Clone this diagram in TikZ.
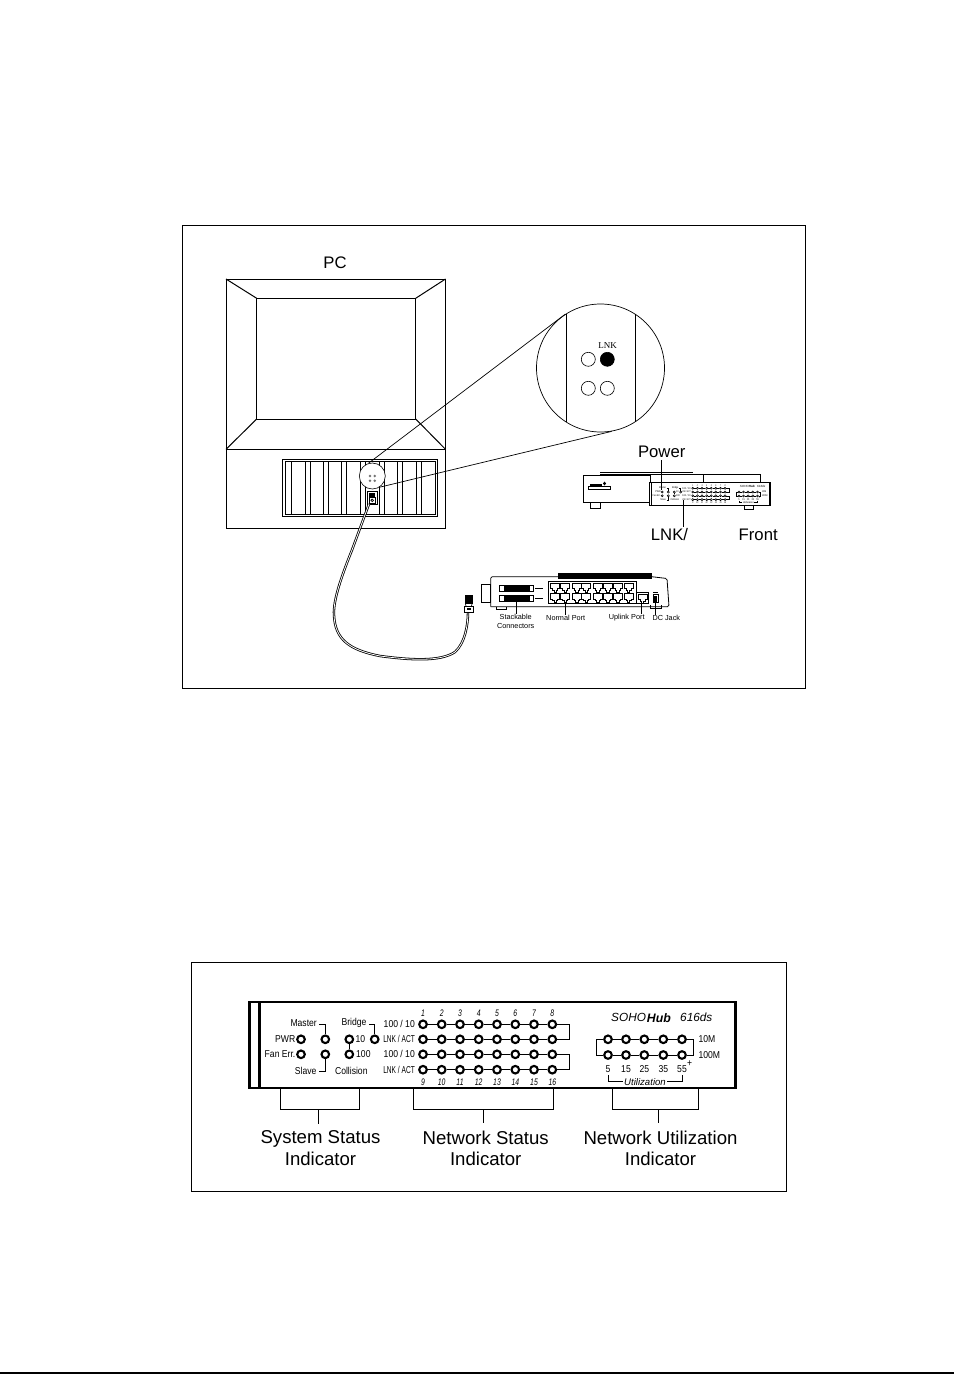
\documentclass[tikz,border=0pt]{standalone}
\usepackage{fontspec}
\setmainfont{Liberation Sans}
\newfontfamily\narrowfont[FakeStretch=0.86]{Liberation Sans}
\newfontfamily\tightfont[FakeStretch=0.66]{Liberation Sans}
\newfontfamily\numfont[FakeStretch=0.72]{Liberation Sans}
\newfontfamily\lnkfont{Liberation Serif}
\usetikzlibrary{positioning}

\tikzset{
  frameline/.style={line width=0.8pt},
  thinline/.style={line width=1pt},
  panelline/.style={line width=0.9pt},
  led/.style={circle,draw,fill=white,line width=2.1pt,minimum size=7.6pt,inner sep=0pt},
  lensled/.style={circle,draw,fill=white,line width=0.6pt,minimum size=14pt,inner sep=0pt},
  labeltext/.style={font=\fontsize{16.7}{20}\selectfont,inner sep=2pt},
  bigtext/.style={font=\fontsize{18.6}{21.3}\selectfont,align=center,inner xsep=0pt,inner ysep=7pt},
  tinytext/.style={font=\fontsize{7.3}{8}\selectfont,align=center,inner sep=0pt},
  paneltext/.style={font=\narrowfont\fontsize{10}{12}\selectfont,inner sep=0pt},
  panelnarrow/.style={font=\tightfont\fontsize{10}{12}\selectfont,inner sep=0pt},
  numtext/.style={font=\numfont\itshape\fontsize{9.5}{11}\selectfont,inner sep=0pt,anchor=base},
  utiltext/.style={font=\itshape\fontsize{9.6}{11}\selectfont,inner sep=1pt},
  sohotext/.style={font=\itshape\fontsize{11.8}{14}\selectfont,inner sep=0pt},
  hubtext/.style={font=\bfseries\itshape\fontsize{12.3}{14}\selectfont,inner sep=0pt},
  minipanel/.style={
    panelline/.style={line width=0.4pt},
    led/.style={circle,draw,fill=white,line width=0.55pt,minimum size=2.1pt,inner sep=0pt},
    paneltext/.style={font=\narrowfont\fontsize{2.6}{3}\selectfont,inner sep=0pt},
    panelnarrow/.style={font=\tightfont\fontsize{2.6}{3}\selectfont,inner sep=0pt},
    numtext/.style={font=\numfont\itshape\fontsize{2.5}{3}\selectfont,inner sep=0pt,anchor=base},
    utiltext/.style={font=\itshape\fontsize{2.5}{3}\selectfont,inner sep=0.2pt},
    sohotext/.style={font=\itshape\fontsize{3}{3.5}\selectfont,inner sep=0pt},
    hubtext/.style={font=\bfseries\itshape\fontsize{3}{3.5}\selectfont,inner sep=0pt}},
}

% one network port seen from the rear
\newcommand{\rjport}[2]{
  \draw[line width=0.7pt] (#1,#2) -- ++(9,0) -- ++(0,5.5) -- ++(-2,0) -- ++(0,1.5) -- ++(-1.2,0) -- ++(0,2)
    -- ++(-2.6,0) -- ++(0,-2) -- ++(-1.2,0) -- ++(0,-1.5) -- ++(-2,0) -- cycle;
}

% everything inside the front panel
\newcommand{\hubpanel}{
  %System status
  \node[led] (pwr) at (301,1039.3) {};
  \node[led] (fan) at (301,1054.3) {};
  \node[led] (master) at (325.3,1039.3) {};
  \node[led] (slave) at (325.3,1054.3) {};
  \node[led] (ten) at (349.3,1039.3) {};
  \node[led] (hundred) at (349.3,1054.3) {};
  \node[led] (bridge) at (374.7,1039.3) {};
  \draw[panelline] (ten) -- (hundred);
  \node[paneltext,anchor=east] (masterlabel) at (317,1023) {Master};
  \node[paneltext,anchor=east] (pwrlabel) at (295.5,1039.3) {PWR};
  \node[paneltext,anchor=east] (fanlabel) at (295.5,1054.3) {Fan Err.};
  \node[paneltext,anchor=east] (slavelabel) at (316.7,1071) {Slave};
  \node[paneltext,anchor=east] (bridgelabel) at (366.7,1023.3) {Bridge};
  \node[paneltext,anchor=west] (tenlabel) at (355.3,1039.3) {10};
  \node[paneltext,anchor=west] (hundredlabel) at (356,1054.3) {100};
  \node[paneltext] (collisionlabel) at (351.3,1071) {Collision};
  \draw[panelline] (319,1024) -| (master);
  \draw[panelline] (319,1071) -| (slave);
  \draw[panelline] (369,1024) -| (bridge);
  %Network status
  \foreach \col [count=\n] in {423,441.7,460,478.7,497,515.3,534,552.3} {
    \node[led] (a\n) at (\col,1024.3) {};
    \node[led] (b\n) at (\col,1039.3) {};
    \node[led] (c\n) at (\col,1054.3) {};
    \node[led] (d\n) at (\col,1069.7) {};
    \pgfmathtruncatemacro{\m}{\n+8}
    \node[numtext] (topnum\n) at (\col,1016.8) {\n};
    \node[numtext] (botnum\n) at (\col,1085.2) {\m};
  }
  \foreach \n [evaluate=\n as \k using int(\n+1)] in {1,...,7} {
    \draw[panelline] (a\n) -- (a\k);
    \draw[panelline] (b\n) -- (b\k);
    \draw[panelline] (c\n) -- (c\k);
    \draw[panelline] (d\n) -- (d\k);
  }
  \draw[panelline] (a8) -- ++(16.7,0) |- (b8);
  \draw[panelline] (c8) -- ++(16.7,0) |- (d8);
  \node[paneltext,anchor=east] (rowa) at (415,1024.3) {100 / 10};
  \node[panelnarrow,anchor=east] (rowb) at (415,1039.3) {LNK / ACT};
  \node[paneltext,anchor=east] (rowc) at (415,1054.3) {100 / 10};
  \node[panelnarrow,anchor=east] (rowd) at (415,1069.7) {LNK / ACT};
  %Network utilization
  \foreach \col/\val [count=\n] in {608/5,626/15,644.3/25,663.3/35,682/55} {
    \node[led] (p\n) at (\col,1039.3) {};
    \node[led] (q\n) at (\col,1055) {};
    \node[paneltext] (util\n) at (\col,1068.7) {\val};
  }
  \foreach \n [evaluate=\n as \k using int(\n+1)] in {1,...,4} {
    \draw[panelline] (p\n) -- (p\k);
    \draw[panelline] (q\n) -- (q\k);
  }
  \draw[panelline] (p1) -- ++(-11.3,0) |- (q1);
  \draw[panelline] (p5) -- ++(11.3,0) |- (q5);
  \node[paneltext,anchor=west] (plus) at (687,1064) {+};
  \node[paneltext,anchor=west] (tenm) at (698.3,1039.3) {10M};
  \node[paneltext,anchor=west] (hundredm) at (698.3,1055) {100M};
  \node[utiltext] (utillabel) at (645,1081.7) {Utilization};
  \draw[panelline] (608,1075) |- (utillabel.west);
  \draw[panelline] (682,1075) |- (utillabel.east);
  \node[sohotext,anchor=west] (soho) at (611,1017.7) {SOHO};
  \node[hubtext,anchor=west] (hub) at (646.7,1017.7) {Hub};
  \node[sohotext,anchor=west] (model) at (680,1017.7) {616ds};
}

\begin{document}
\begin{tikzpicture}[x=1pt,y=1pt,yscale=-1,xscale=1]
\useasboundingbox (0,0) rectangle (954,1375);

%Frames
\draw [frameline] (182,225) rectangle (805,688);
\draw [frameline] (191,962) rectangle (786,1191);
\draw [line width=1.5pt] (0,1373) -- (954,1373);

%PC monitor
\draw [thinline] (226,279) rectangle (445.5,528);
\draw [thinline] (226,449.3) -- (445.5,449.3);
\draw [thinline] (256.7,298.3) rectangle (415.7,419);
\draw [thinline] (226,279) -- (256.7,298.3);
\draw [thinline] (445.5,279) -- (415.7,298.3);
\draw [thinline] (226,449.3) -- (256.7,419);
\draw [thinline] (445.5,449.3) -- (415.7,419);
\node [labeltext] (pc) at (335,263) {PC};

%Card bay
\draw [thinline] (282.3,459.3) rectangle (437.7,516.7);
\draw [line width=0.5pt] (285,461) rectangle (435.3,514.3);
\foreach \slot in {291.3,305.3,310.3,323.3,328.3,341.3,346.3,360.3,365.3,379.3,384.3,397.3,402.7,416.7,421.7}
  \draw [line width=0.7pt] (\slot,461) -- (\slot,514.3);

%Spot on the bay
\node [circle,draw,fill=white,line width=0.6pt,minimum size=26pt,inner sep=0pt] (spot) at (372.3,476) {};
\foreach \ledx/\ledy [count=\n] in {370/476,374.7/476,370/480.7,374.7/480.7}
  \node [circle,fill=black!55,minimum size=2.8pt,inner sep=0pt] (spotled\n) at (\ledx,\ledy) {};

%Magnified spot
\node [circle,draw,fill=white,line width=0.7pt,minimum size=128pt,inner sep=0pt] (lens) at (600.5,368) {};
\draw [thinline] (566,313.5) -- (566,421.5);
\draw [thinline] (635.3,313.5) -- (635.3,421.5);
\node [lensled] (lenstl) at (588.3,359.3) {};
\node [lensled,fill=black] (lenstr) at (607.3,359.3) {};
\node [lensled] (lensbl) at (588.3,388.3) {};
\node [lensled] (lensbr) at (607.3,388.3) {};
\node [font=\lnkfont\fontsize{9}{10}\selectfont,inner sep=0pt] (lnktext) at (607.7,346) {LNK};
\draw [line width=0.7pt] (spot.107) -- (lens.123);
\draw [line width=0.7pt] (spot.-58) -- (lens.-80);

%Cable and plugs
\draw [fill=white,line width=0.9pt] (367.7,491.7) rectangle (377.3,504.3);
\fill (368.8,493) rectangle (375,497);
\draw [line width=0.9pt] (369,497) rectangle (375.5,503.5);
\draw [line width=0.7pt] (372.2,500.3) circle (1.3);
\draw [line width=0.8pt,double=white,double distance=0.8pt]
  (369,504) -- (352,550) .. controls (342,575) and (333,600) .. (334,615)
  .. controls (335,640) and (350,650) .. (380,656)
  .. controls (410,660) and (440,662) .. (455,652)
  .. controls (465,643) and (468,625) .. (468,612);
\fill (464.7,595) rectangle (472.7,604);
\draw [line width=0.7pt] (465.5,604) -- (466,606) (472,604) -- (471.5,606);
\draw [fill=white,line width=0.8pt] (464.5,606) rectangle (473,612);
\fill (466.5,608) rectangle (471,610);

%Rear of the hub
\draw [line width=0.8pt,rounded corners=1.5pt] (490.7,606.7) -- (490.7,576.7) -- (558.3,576.7);
\draw [line width=0.8pt,rounded corners=1.5pt] (651.7,576.7) -- (667,578.5) -- (669,606.7) -- (490.7,606.7);
\draw [line width=0.8pt] (481,584) rectangle (490.7,602.7);
\draw [fill=black,line width=0.5pt] (558.3,573.5) rectangle (651.7,578.5);
%Stackable connectors
\foreach \stacky in {585,595} {
  \draw [line width=0.6pt] (499,\stacky) rectangle (533.3,\stacky+6.5);
  \fill (503.5,\stacky) rectangle (529.5,\stacky+6.5);
  \fill (535,\stacky+2.5) rectangle (543,\stacky+4);
}
\draw [line width=0.6pt] (496.7,606.7) -- (496.7,609.5) -- (506.7,609.5) -- (506.7,606.7);
%Ports
\draw [line width=0.8pt] (548.3,581) rectangle (636.7,603.5);
\draw [line width=0.8pt] (636.7,592.3) rectangle (648.3,603.5);
\foreach \portx in {550.7,560.7,572.3,581.7,593.3,603.3,613.3,624} {
  \rjport{\portx}{583}
  \rjport{\portx}{593.5}
}
\rjport{638}{594}
%DC jack
\draw [line width=0.7pt] (653.3,594.3) rectangle (658.3,602.7);
\fill (654.3,595.5) rectangle (657.3,601.5);
\fill (653.3,591.5) rectangle (658.3,592.5);
\draw [line width=0.5pt] (650,605) -- (650,608) -- (661,608) -- (661,605);

%Rear labels
\node [tinytext] (stacklabel) at (515.7,621.3) {Stackable\\[0.2pt]Connectors};
\node [tinytext] (normallabel) at (565.7,617.5) {Normal Port};
\node [tinytext] (uplinklabel) at (626.7,617.5) {Uplink Port};
\node [tinytext] (dclabel) at (666.3,617.5) {DC Jack};
\coordinate (stacktip) at (516.7,601.7);
\coordinate (normaltip) at (565.7,601.7);
\coordinate (uplinktip) at (641.7,601.7);
\coordinate (dctip) at (655.7,602.7);
\draw [line width=0.6pt] (stacktip) -- (stacktip |- stacklabel.north);
\draw [line width=0.6pt] (normaltip) -- (normaltip |- normallabel.north);
\draw [line width=0.6pt] (uplinktip) -- (uplinktip |- uplinklabel.north);
\draw [line width=0.6pt] (dctip) -- (dctip |- dclabel.north);

%Front of the hub
\draw [line width=1pt] (600,472.8) -- (692.7,472.8);
\draw [line width=0.8pt] (600,474.3) -- (760,474.3) -- (760,482.7);
\draw [line width=0.8pt] (703.3,474.3) -- (703.3,482.7);
\draw [line width=0.8pt] (583.3,475.7) rectangle (650,502.7);
\draw [line width=0.7pt] (590,502.7) rectangle (600,508);
\draw [line width=0.7pt] (744,505.3) rectangle (753.5,509.3);
\draw [line width=0.7pt] (588.3,486.7) rectangle (610,489.3);
\fill (590,483.5) rectangle (602,485.5);
\fill (604.5,481.5) -- (606,483.5) -- (604.5,485.5) -- (603,483.5) -- cycle;
\draw [fill=white,line width=1.4pt] (649.3,482.7) rectangle (770,505.3);
\draw [line width=1pt] (651.9,482.7) -- (651.9,505.3);
\begin{scope}[shift={(587,232.2)},scale=0.25,minipanel]
\hubpanel
\end{scope}
\node [labeltext] (powerlabel) at (661.7,452) {Power};
\node [labeltext] (lnklabel) at (669.5,535) {LNK/};
\node [labeltext] (frontlabel) at (758.2,535) {Front};
\coordinate (powertip) at (661.3,490);
\coordinate (lnktip) at (683.3,500);
\draw [line width=0.7pt] (powerlabel.south -| powertip) -- (powertip);
\draw [line width=0.7pt] (lnktip) -- (lnktip |- lnklabel.north);

%Front panel, large
\draw [line width=2.4pt] (249.3,1002) rectangle (735.5,1088);
\draw [line width=2.4pt] (259.3,1002) -- (259.3,1088);
\hubpanel

%Brackets
\coordinate (sysleft) at (280,1088);
\coordinate (sysright) at (359.3,1088);
\coordinate (netleft) at (413.7,1088);
\coordinate (netright) at (553.7,1088);
\coordinate (utilleft) at (612.3,1088);
\coordinate (utilright) at (698.3,1088);
\draw [line width=0.8pt] (sysleft) -- ++(0,21) -| (sysright);
\draw [line width=0.8pt] (netleft) -- ++(0,21) -| (netright);
\draw [line width=0.8pt] (utilleft) -- ++(0,21) -| (utilright);
\node [bigtext] (syslabel) at (320.5,1148) {System Status\\Indicator};
\node [bigtext] (netlabel) at (485.7,1148) {Network Status\\Indicator};
\node [bigtext] (utillabelbig) at (660.5,1148) {Network Utilization\\Indicator};
\coordinate (sysstem) at (318.3,1109);
\coordinate (netstem) at (483.3,1109);
\coordinate (utilstem) at (658.3,1109);
\draw [line width=0.8pt] (sysstem) -- (sysstem |- syslabel.north);
\draw [line width=0.8pt] (netstem) -- (netstem |- netlabel.north);
\draw [line width=0.8pt] (utilstem) -- (utilstem |- utillabelbig.north);

\end{tikzpicture}
\end{document}
